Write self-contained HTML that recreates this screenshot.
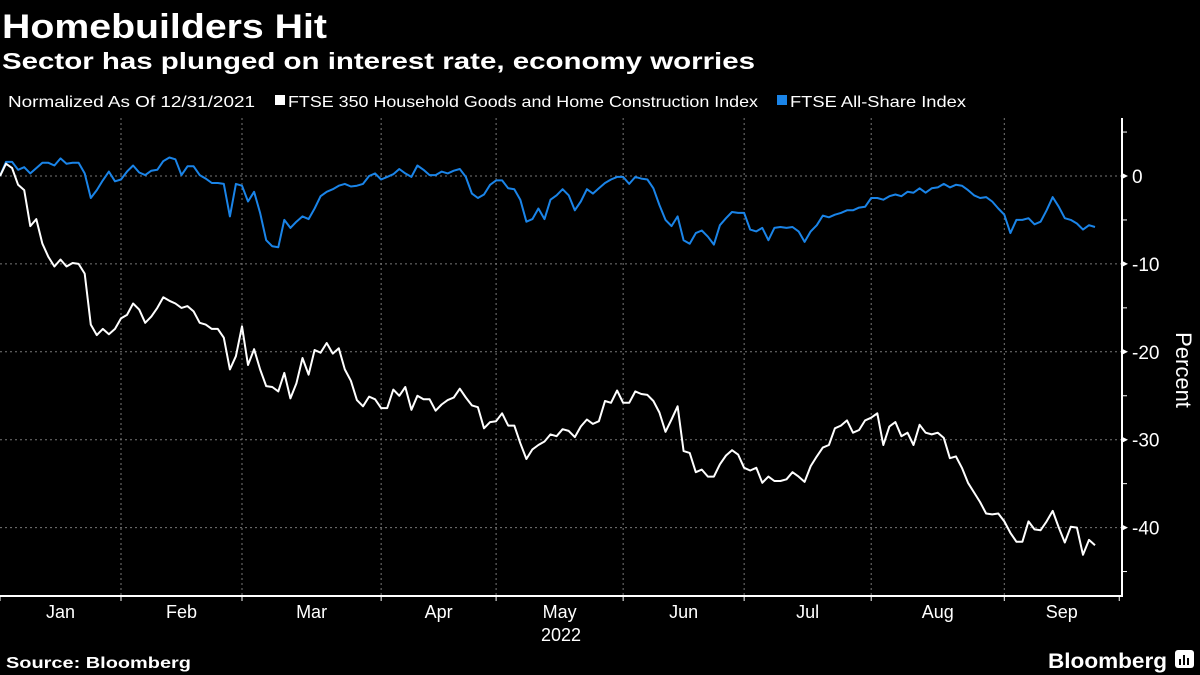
<!DOCTYPE html>
<html><head><meta charset="utf-8"><style>
html,body{margin:0;padding:0;background:#000;}
svg{display:block;font-family:"Liberation Sans",sans-serif;}
</style></head><body>
<svg id="chart" width="1200" height="675" viewBox="0 0 1200 675" xmlns="http://www.w3.org/2000/svg">
<rect width="1200" height="675" fill="#000"/>
<text x="2" y="38" fill="#fff" font-size="34" font-weight="bold" textLength="325" lengthAdjust="spacingAndGlyphs">Homebuilders Hit</text>
<text x="2" y="69" fill="#fff" font-size="23" font-weight="bold" textLength="753" lengthAdjust="spacingAndGlyphs">Sector has plunged on interest rate, economy worries</text>
<g>
<text x="8" y="107" fill="#fff" font-size="16" textLength="247" lengthAdjust="spacingAndGlyphs">Normalized As Of 12/31/2021</text>
<rect x="275" y="95" width="10" height="10" fill="#fff"/>
<text x="288" y="107" fill="#fff" font-size="16" textLength="470" lengthAdjust="spacingAndGlyphs">FTSE 350 Household Goods and Home Construction Index</text>
<rect x="777" y="95" width="10" height="10" fill="#1a84e8"/>
<text x="790" y="107" fill="#fff" font-size="16" textLength="176" lengthAdjust="spacingAndGlyphs">FTSE All-Share Index</text>
</g>
<g id="grid"></g>
<g id="axes"></g>
<g id="series"></g>
<text transform="translate(1176,370) rotate(90)" text-anchor="middle" fill="#fff" font-size="22">Percent</text>
<text x="561" y="641" text-anchor="middle" fill="#fff" font-size="18">2022</text>
<text x="6" y="668" fill="#fff" font-size="16" font-weight="bold" textLength="185" lengthAdjust="spacingAndGlyphs">Source: Bloomberg</text>
<text x="1048" y="668" fill="#fff" font-size="21" font-weight="bold" textLength="119" lengthAdjust="spacingAndGlyphs">Bloomberg</text>
<g>
<rect x="1175" y="650" width="19" height="18" rx="3" fill="#fff"/>
<rect x="1179" y="659" width="2" height="6" fill="#000"/><rect x="1183" y="655" width="2" height="10" fill="#000"/><rect x="1187" y="658" width="2" height="7" fill="#000"/>
</g>
</svg>
<script>
const allShare = [0,1.6,1.6,0.7,1.0,0.3,0.9,1.5,1.5,1.2,2.0,1.4,1.5,1.5,0.3,-2.5,-1.6,-0.5,0.5,-0.6,
-0.4,0.5,1.2,0.4,0.1,0.6,0.7,1.7,2.1,1.9,0.1,1.1,1.1,0.1,-0.3,-0.8,-0.8,-0.9,-4.6,-0.9,
-1.1,-2.9,-1.8,-4.2,-7.3,-8.0,-8.1,-5.0,-5.9,-5.2,-4.6,-4.9,-3.7,-2.3,-1.8,-1.5,-1.1,-0.9,-1.2,-1.1,
-0.9,0,0.3,-0.4,-0.1,0.2,0.8,0.3,-0.1,1.2,0.7,0.1,0.1,0.5,0.3,0.6,0.8,-0.1,-2.0,-2.5,
-2.1,-1.0,-0.5,-0.5,-1.4,-1.5,-2.7,-5.2,-4.9,-3.7,-4.9,-2.7,-2.2,-1.5,-2.2,-3.9,-2.9,-1.5,-2.0,-1.4,
-0.8,-0.4,-0.1,-0.1,-0.9,-0.1,-0.3,-0.4,-1.4,-3.3,-5.0,-5.7,-4.6,-7.3,-7.7,-6.5,-6.2,-6.9,-7.8,-5.6,
-4.8,-4.1,-4.2,-4.2,-6.1,-6.3,-5.9,-7.3,-5.9,-5.8,-5.9,-5.8,-6.3,-7.5,-6.3,-5.6,-4.5,-4.7,-4.4,-4.2,
-3.9,-3.9,-3.6,-3.5,-2.5,-2.5,-2.7,-2.3,-2.1,-2.3,-1.8,-1.9,-1.4,-1.9,-1.4,-1.3,-0.9,-1.3,-1.0,-1.1,
-1.6,-2.2,-2.5,-2.4,-2.9,-3.7,-4.4,-6.5,-5.0,-5.0,-4.8,-5.5,-5.2,-3.9,-2.4,-3.5,-4.8,-5.0,-5.4,-6.1,
-5.6,-5.8];
const household = [0,1.4,0.9,-1.0,-1.6,-5.7,-4.9,-7.7,-9.2,-10.3,-9.5,-10.3,-9.9,-10.0,-11.1,-16.9,-18.1,-17.4,-18.0,-17.4,
-16.2,-15.8,-14.5,-15.2,-16.7,-16.0,-15.0,-13.8,-14.2,-14.5,-15.0,-14.8,-15.4,-16.7,-16.9,-17.4,-17.4,-18.4,-22.0,-20.5,
-17.1,-21.5,-19.7,-22.0,-23.9,-24.0,-24.5,-22.4,-25.3,-23.6,-20.7,-22.6,-19.8,-20.1,-19.0,-20.2,-19.6,-22.0,-23.3,-25.5,
-26.2,-25.1,-25.4,-26.4,-26.4,-24.3,-25.0,-24.0,-26.6,-25.0,-25.4,-25.4,-26.7,-26.0,-25.5,-25.2,-24.2,-25.2,-26.1,-26.3,
-28.7,-28.0,-27.9,-27.0,-28.4,-28.4,-30.4,-32.2,-31.1,-30.6,-30.2,-29.4,-29.6,-28.8,-29.0,-29.7,-28.5,-27.7,-28.2,-27.9,
-25.6,-25.8,-24.4,-25.8,-25.8,-24.5,-24.8,-24.9,-25.6,-26.9,-29.1,-27.7,-26.2,-31.3,-31.5,-33.7,-33.4,-34.2,-34.2,-32.8,
-31.8,-31.2,-31.7,-33.2,-33.5,-33.2,-34.9,-34.2,-34.7,-34.7,-34.5,-33.7,-34.2,-34.8,-33.0,-31.9,-30.9,-30.6,-28.7,-28.4,
-27.8,-29.2,-28.9,-27.8,-27.5,-27.0,-30.6,-28.5,-28.0,-29.6,-29.2,-30.6,-28.3,-29.2,-29.4,-29.2,-29.8,-32.1,-31.9,-33.2,
-34.9,-36.0,-37.1,-38.4,-38.5,-38.4,-39.3,-40.6,-41.6,-41.6,-39.3,-40.2,-40.3,-39.3,-38.1,-40.0,-41.7,-39.9,-40.0,-43.1,
-41.4,-42.0];
const monthLabels = ["Jan","Feb","Mar","Apr","May","Jun","Jul","Aug","Sep"];
const monthStartDay = [0,20,40,63,82,103,123,144,166,185];
const yTicks = [0,-10,-20,-30,-40];
const yMinorTicks = [5,-5,-15,-25,-35,-45];

const NS="http://www.w3.org/2000/svg";
const X0=0, PXDAY=6.05, Y0=176, PXUNIT=8.79, PLOT_TOP=118, PLOT_BOT=596, AXIS_X=1122;
function xs(d){return X0+d*PXDAY;}
function ys(v){return Y0-v*PXUNIT;}
function mk(tag,attrs,parent){const e=document.createElementNS(NS,tag);for(const k in attrs)e.setAttribute(k,attrs[k]);parent.appendChild(e);return e;}
const grid=document.getElementById('grid'), axes=document.getElementById('axes'), series=document.getElementById('series');

yTicks.forEach(v=>{
  const l=mk('line',{x1:0,x2:AXIS_X,y1:ys(v),y2:ys(v),stroke:'#777','stroke-width':1,'stroke-dasharray':'2,3'},grid);
  
  
  const t=mk('path',{d:`M${AXIS_X} ${ys(v)-3}L${AXIS_X+6} ${ys(v)}L${AXIS_X} ${ys(v)+3}Z`,fill:'#fff'},axes);
  
  
  const lab=mk('text',{x:AXIS_X+10,y:ys(v)+7,fill:'#fff','font-size':19},axes);
  lab.textContent=String(v);
  
  
});
yMinorTicks.forEach(v=>{
  const t=mk('line',{x1:AXIS_X,x2:AXIS_X+5,y1:ys(v),y2:ys(v),stroke:'#fff','stroke-width':1},axes);
  
  
});
monthStartDay.forEach((d,i)=>{
  const x=xs(d);
  if(i>0&&i<monthStartDay.length-1){
    const g=mk('line',{x1:x,x2:x,y1:PLOT_TOP,y2:PLOT_BOT,stroke:'#777','stroke-width':1,'stroke-dasharray':'2,3'},grid);
    
    
  }
  const t=mk('line',{x1:x,x2:x,y1:PLOT_BOT,y2:PLOT_BOT+5,stroke:'#fff','stroke-width':1},axes);
  
  
});
monthLabels.forEach((m,i)=>{
  const x=(xs(monthStartDay[i])+xs(monthStartDay[i+1]))/2;
  const t=mk('text',{x:x,y:618,'text-anchor':'middle',fill:'#fff','font-size':18},axes);
  t.textContent=m;
  
  
});
const xa=mk('line',{x1:0,x2:AXIS_X+1,y1:PLOT_BOT,y2:PLOT_BOT,stroke:'#fff','stroke-width':2},axes);


const ya=mk('line',{x1:AXIS_X,x2:AXIS_X,y1:PLOT_TOP,y2:PLOT_BOT,stroke:'#fff','stroke-width':2},axes);



function line(arr,color,name){
  const d=arr.map((v,i)=>(i?'L':'M')+xs(i).toFixed(1)+' '+ys(v).toFixed(1)).join('');
  const p=mk('path',{d:d,fill:'none',stroke:color,'stroke-width':2,'stroke-linejoin':'round'},series);
  
  
}
line(allShare,'#1a84e8','line-ftse-all-share');
line(household,'#ffffff','line-ftse-350-household');
</script>
</body></html>
